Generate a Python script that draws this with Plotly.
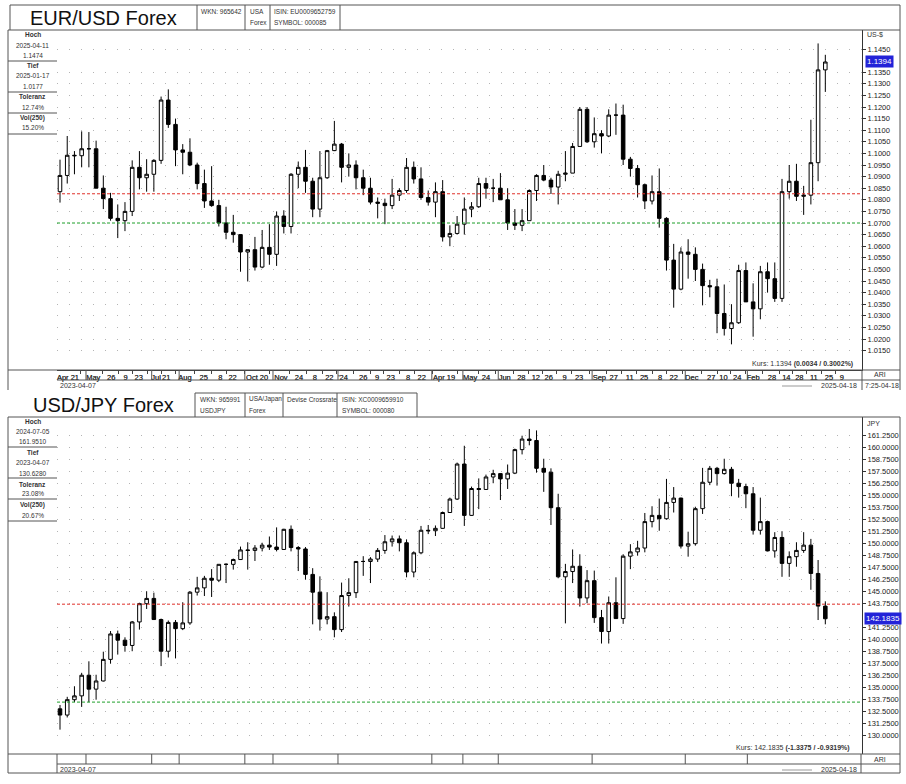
import plotly.graph_objects as go
import pandas as pd

W, H = 906, 784
FONT = "Liberation Sans, Arial, sans-serif"

# ---------------- data ----------------
week_dates = pd.date_range("2023-04-07", "2025-04-18", freq="W-FRI").strftime("%Y-%m-%d").tolist()

eur_open = [1.0835, 1.0905, 1.0992, 1.0990, 1.1020, 1.1020, 1.0850, 1.0805, 1.0720, 1.0710,
            1.0750, 1.0940, 1.0895, 1.0910, 1.0970, 1.1230, 1.1125, 1.1015, 1.1005, 1.0950,
            1.0870, 1.0795, 1.0775, 1.0700, 1.0660, 1.0650, 1.0575, 1.0585, 1.0510, 1.0595,
            1.0565, 1.0730, 1.0685, 1.0910, 1.0940, 1.0880, 1.0760, 1.0895, 1.1012, 1.1040,
            1.0940, 1.0950, 1.0895, 1.0850, 1.0790, 1.0785, 1.0775, 1.0820, 1.0840, 1.0940,
            1.0890, 1.0810, 1.0790, 1.0835, 1.0640, 1.0655, 1.0695, 1.0760, 1.0770, 1.0870,
            1.0850, 1.0850, 1.0800, 1.0700, 1.0690, 1.0710, 1.0840, 1.0905, 1.0885, 1.0855,
            1.0910, 1.0915, 1.1030, 1.1190, 1.1050, 1.1085, 1.1075, 1.1165, 1.1165, 1.0975,
            1.0935, 1.0865, 1.0795, 1.0835, 1.0720, 1.0540, 1.0415, 1.0575, 1.0565, 1.0500,
            1.0430, 1.0425, 1.0310, 1.0245, 1.0270, 1.0495, 1.0360, 1.0330, 1.0490, 1.0460,
            1.0375, 1.0835, 1.0880, 1.0815, 1.0820, 1.0960, 1.1360]
eur_high = [1.0973, 1.1075, 1.1010, 1.1095, 1.1092, 1.1055, 1.0905, 1.0830, 1.0780, 1.0790,
            1.0970, 1.1010, 1.0975, 1.0975, 1.1245, 1.1276, 1.1150, 1.1040, 1.1065, 1.0960,
            1.0930, 1.0945, 1.0800, 1.0770, 1.0735, 1.0650, 1.0585, 1.0640, 1.0670, 1.0695,
            1.0750, 1.0755, 1.0915, 1.0965, 1.1015, 1.0895, 1.1010, 1.1015, 1.1140, 1.1045,
            1.1000, 1.0970, 1.0930, 1.0895, 1.0810, 1.0805, 1.0890, 1.0850, 1.0980, 1.0965,
            1.0940, 1.0840, 1.0875, 1.0885, 1.0690, 1.0730, 1.0810, 1.0790, 1.0895, 1.0895,
            1.0890, 1.0915, 1.0850, 1.0760, 1.0760, 1.0845, 1.0910, 1.0950, 1.0895, 1.0925,
            1.1010, 1.1045, 1.1200, 1.1200, 1.1155, 1.1100, 1.1190, 1.1215, 1.1210, 1.0985,
            1.0950, 1.0870, 1.0905, 1.0935, 1.0725, 1.0610, 1.0595, 1.0630, 1.0595, 1.0525,
            1.0455, 1.0460, 1.0435, 1.0350, 1.0520, 1.0530, 1.0440, 1.0515, 1.0530, 1.0530,
            1.0890, 1.0950, 1.0955, 1.0860, 1.1145, 1.1474, 1.1425]
eur_low = [1.0788, 1.0870, 1.0910, 1.0940, 1.0940, 1.0850, 1.0760, 1.0710, 1.0635, 1.0665,
           1.0730, 1.0845, 1.0835, 1.0835, 1.0955, 1.1110, 1.0945, 1.0910, 1.0945, 1.0845,
           1.0765, 1.0770, 1.0685, 1.0630, 1.0615, 1.0490, 1.0448, 1.0495, 1.0505, 1.0520,
           1.0515, 1.0655, 1.0655, 1.0850, 1.0830, 1.0725, 1.0725, 1.0890, 1.1010, 1.0875,
           1.0900, 1.0845, 1.0820, 1.0780, 1.0720, 1.0695, 1.0760, 1.0795, 1.0830, 1.0870,
           1.0800, 1.0775, 1.0725, 1.0620, 1.0600, 1.0650, 1.0650, 1.0725, 1.0765, 1.0805,
           1.0790, 1.0800, 1.0670, 1.0670, 1.0665, 1.0710, 1.0795, 1.0880, 1.0825, 1.0780,
           1.0880, 1.0915, 1.1030, 1.1045, 1.1025, 1.1000, 1.1070, 1.1080, 1.0950, 1.0900,
           1.0810, 1.0760, 1.0780, 1.0680, 1.0495, 1.0335, 1.0410, 1.0460, 1.0450, 1.0345,
           1.0380, 1.0225, 1.0215, 1.0177, 1.0265, 1.0360, 1.0210, 1.0285, 1.0400, 1.0360,
           1.0360, 1.0805, 1.0795, 1.0735, 1.0780, 1.0880, 1.1265]
eur_close = [1.0905, 1.0992, 1.0990, 1.1020, 1.1020, 1.0850, 1.0805, 1.0720, 1.0710, 1.0750,
             1.0940, 1.0895, 1.0910, 1.0970, 1.1230, 1.1125, 1.1015, 1.1005, 1.0950, 1.0870,
             1.0795, 1.0775, 1.0700, 1.0660, 1.0650, 1.0575, 1.0585, 1.0510, 1.0595, 1.0565,
             1.0730, 1.0685, 1.0910, 1.0940, 1.0880, 1.0760, 1.0895, 1.1012, 1.1040, 1.0940,
             1.0950, 1.0895, 1.0850, 1.0790, 1.0785, 1.0775, 1.0820, 1.0840, 1.0940, 1.0890,
             1.0810, 1.0790, 1.0835, 1.0640, 1.0655, 1.0695, 1.0760, 1.0770, 1.0870, 1.0850,
             1.0850, 1.0800, 1.0700, 1.0690, 1.0710, 1.0840, 1.0905, 1.0885, 1.0855, 1.0910,
             1.0915, 1.1030, 1.1190, 1.1050, 1.1085, 1.1075, 1.1165, 1.1165, 1.0975, 1.0935,
             1.0865, 1.0795, 1.0835, 1.0720, 1.0540, 1.0415, 1.0575, 1.0565, 1.0500, 1.0430,
             1.0425, 1.0310, 1.0245, 1.0270, 1.0495, 1.0360, 1.0330, 1.0490, 1.0460, 1.0375,
             1.0835, 1.0880, 1.0815, 1.0820, 1.0960, 1.1360, 1.1394]

jpy_open = [132.80, 132.15, 133.75, 134.15, 136.30, 134.85, 135.70, 137.95, 140.60, 139.95,
            139.40, 141.85, 143.75, 144.30, 142.10, 138.80, 141.80, 141.15, 141.75, 144.95,
            145.40, 146.40, 146.20, 147.85, 147.85, 148.35, 149.35, 149.30, 149.55, 149.85,
            149.65, 149.40, 151.50, 149.60, 149.45, 146.80, 144.95, 142.15, 142.40, 141.05,
            144.60, 144.90, 148.15, 148.15, 148.40, 149.30, 150.20, 150.50, 150.10, 147.05,
            149.05, 151.40, 151.35, 151.60, 153.25, 154.65, 158.30, 152.95, 155.75, 155.65,
            156.95, 157.30, 156.75, 157.35, 159.80, 160.90, 160.75, 157.85, 157.45, 153.75,
            146.55, 147.10, 147.65, 144.35, 146.15, 142.30, 140.85, 143.85, 142.20, 148.70,
            149.15, 149.55, 152.30, 152.95, 152.60, 154.30, 154.75, 149.75, 150.00, 153.65,
            156.40, 157.85, 157.30, 157.75, 156.30, 155.95, 155.20, 151.40, 152.30, 149.25,
            150.65, 147.95, 148.65, 149.30, 149.85, 146.90, 143.50]
jpy_high = [133.20, 134.05, 135.15, 136.55, 137.75, 136.35, 138.75, 140.90, 140.95, 140.25,
            141.95, 143.85, 145.05, 144.90, 142.20, 142.00, 142.05, 143.90, 145.05, 146.55,
            146.65, 147.35, 147.85, 147.95, 148.45, 149.70, 150.15, 149.85, 150.10, 150.75,
            151.70, 151.55, 151.90, 149.75, 149.65, 147.45, 146.60, 144.95, 142.85, 145.95,
            146.40, 148.20, 148.70, 148.60, 149.55, 150.90, 150.85, 150.85, 150.45, 149.20,
            151.85, 151.95, 151.90, 153.35, 154.80, 158.45, 160.20, 155.95, 156.80, 157.20,
            157.70, 157.30, 158.25, 159.90, 161.25, 161.95, 161.80, 158.85, 157.85, 155.20,
            147.90, 149.40, 148.90, 147.25, 147.20, 143.10, 144.50, 146.50, 148.90, 149.95,
            150.30, 153.20, 153.90, 154.70, 156.75, 155.90, 154.80, 151.25, 153.85, 157.90,
            158.10, 158.00, 158.85, 158.00, 156.75, 156.25, 155.90, 154.80, 152.40, 151.20,
            151.30, 149.20, 150.15, 151.20, 150.50, 148.30, 144.00]
jpy_low = [130.63, 131.90, 133.50, 133.00, 133.50, 133.75, 135.65, 137.50, 138.45, 138.75,
           138.80, 141.05, 143.20, 142.05, 137.25, 138.15, 138.05, 141.00, 141.55, 144.60,
           144.55, 144.45, 146.00, 145.90, 147.30, 148.30, 147.30, 148.20, 149.20, 149.35,
           149.20, 149.35, 149.20, 147.15, 146.25, 141.60, 140.95, 141.60, 140.25, 140.80,
           143.45, 144.35, 146.65, 145.90, 148.10, 148.95, 149.70, 149.20, 146.50, 146.50,
           148.90, 151.00, 150.80, 151.55, 153.20, 154.55, 151.85, 152.90, 153.60, 155.65,
           156.30, 154.55, 155.70, 157.25, 159.30, 160.25, 157.40, 155.40, 151.95, 146.40,
           141.70, 145.90, 143.45, 143.80, 141.75, 139.60, 139.60, 142.45, 141.65, 147.35,
           148.75, 149.10, 151.70, 151.35, 152.50, 153.25, 149.50, 148.65, 149.80, 153.10,
           156.10, 156.05, 157.20, 154.95, 154.80, 153.70, 150.95, 150.95, 149.20, 148.55,
           146.55, 146.55, 147.60, 149.05, 145.20, 142.05, 141.60]
jpy_close = [132.15, 133.75, 134.15, 136.30, 134.85, 135.70, 137.95, 140.60, 139.95, 139.40,
             141.85, 143.75, 144.30, 142.10, 138.80, 141.80, 141.15, 141.75, 144.95, 145.40,
             146.40, 146.20, 147.85, 147.85, 148.35, 149.35, 149.30, 149.55, 149.85, 149.65,
             149.40, 151.50, 149.60, 149.45, 146.80, 144.95, 142.15, 142.40, 141.05, 144.60,
             144.90, 148.15, 148.15, 148.40, 149.30, 150.20, 150.50, 150.10, 147.05, 149.05,
             151.40, 151.35, 151.60, 153.25, 154.65, 158.30, 152.95, 155.75, 155.65, 156.95,
             157.30, 156.75, 157.35, 159.80, 160.90, 160.75, 157.85, 157.45, 153.75, 146.55,
             147.10, 147.65, 144.35, 146.15, 142.30, 140.85, 143.85, 142.20, 148.70, 149.15,
             149.55, 152.30, 152.95, 152.60, 154.30, 154.75, 149.75, 150.00, 153.65, 156.40,
             157.85, 157.30, 157.75, 156.30, 155.95, 155.20, 151.40, 152.30, 149.25, 150.65,
             147.95, 148.65, 149.30, 149.85, 146.90, 143.50, 142.1835]

# reference lines
eur_red_level = 1.0826
eur_green_level = 1.0700
jpy_red_level = 143.70
jpy_green_level = 133.50

# x-axis labels (position in weeks from 2023-04-07)
tick_pos = [1.1, 4.6, 7.1, 9.1, 10.9, 13.3, 14.7, 17.3, 19.9, 22.2, 23.9, 27.3, 30.6, 33.1,
            35.3, 37.3, 39.2, 42.0, 43.9, 45.8, 48.2, 50.1, 53.2, 56.8, 59.0, 61.6, 63.9,
            65.9, 67.7, 69.9, 71.9, 74.7, 76.7, 78.9, 80.9, 83.1, 85.0, 87.5, 90.2, 91.9,
            93.8, 96.0, 98.6, 100.6, 102.4, 104.4, 106.5, 108.3]
tick_text = ["Apr 21", "May", "26", "9", "23", "Jul", "21", "Aug", "25", "8", "22", "Oct 20",
             "Nov", "24", "8", "22", "'24", "26", "9", "23", "8", "22", "Apr 19", "May", "24",
             "Jun", "28", "12", "26", "9", "23", "Sep", "27", "11", "25", "8", "22", "Dec",
             "27", "10", "24", "Feb", "28", "14", "28", "11", "25", "9"]
month_sep = [3.6, 12.7, 16.5, 25.6, 29.5, 38.5, 51.5, 55.8, 60.7, 73.7, 86.6, 95.2]

eur_ticks = [1.0150, 1.0200, 1.0250, 1.0300, 1.0350, 1.0400, 1.0450, 1.0500, 1.0550, 1.0600,
             1.0650, 1.0700, 1.0750, 1.0800, 1.0850, 1.0900, 1.0950, 1.1000, 1.1050, 1.1100,
             1.1150, 1.1200, 1.1250, 1.1300, 1.1350, 1.1450]
jpy_ticks = [130.00, 131.25, 132.50, 133.75, 135.00, 136.25, 137.50, 138.75, 140.00, 141.25,
             143.75, 145.00, 146.25, 147.50, 148.75, 150.00, 151.25, 152.50, 153.75, 155.00,
             156.25, 157.50, 158.75, 160.00, 161.25]

x_idx = list(range(len(week_dates)))

# ---------------- helpers ----------------
def X(px):
    return px / W

def Y(py):
    return 1 - py / H

fig = go.Figure()

candle_style = dict(
    increasing=dict(line=dict(color="black", width=1), fillcolor="white"),
    decreasing=dict(line=dict(color="black", width=1), fillcolor="black"),
    whiskerwidth=0, showlegend=False, hoverinfo="text",
)

fig.add_trace(go.Candlestick(x=x_idx, open=eur_open, high=eur_high, low=eur_low, close=eur_close,
                             text=week_dates, xaxis="x", yaxis="y", **candle_style))
fig.add_trace(go.Candlestick(x=x_idx, open=jpy_open, high=jpy_high, low=jpy_low, close=jpy_close,
                             text=week_dates, xaxis="x2", yaxis="y2", **candle_style))

px_per_week = 7.22
top_l, top_r, top_t, top_b = 57, 862, 30, 370
bot_l, bot_r, bot_t, bot_b = 57, 861, 417, 754
x0 = -3 / px_per_week

def xaxis_cfg(left, right):
    return dict(
        domain=[X(left), X(right)],
        range=[x0, x0 + (right - left) / px_per_week],
        rangeslider=dict(visible=False),
        tickmode="array", tickvals=tick_pos, ticktext=tick_text, tickangle=0,
        tickfont=dict(size=7.5, color="#333", family=FONT),
        ticks="", showgrid=False, zeroline=False,
        showline=True, linecolor="#333", linewidth=1,
        minor=dict(tickmode="array",
                   tickvals=[(a + b) / 2 for a, b in zip(tick_pos[:-1], tick_pos[1:])],
                   ticks="outside", ticklen=3, tickcolor="#444", tickwidth=1),
        fixedrange=True,
    )

def yaxis_cfg(top, bottom, p_ref, y_ref, px_per_unit, ticks, fmt):
    hi = p_ref + (y_ref - top) / px_per_unit
    lo = p_ref - (bottom - y_ref) / px_per_unit
    return dict(
        domain=[Y(bottom), Y(top)],
        range=[lo, hi], side="right",
        tickmode="array", tickvals=ticks, tickformat=fmt,
        tickfont=dict(size=7.5, color="#222", family=FONT),
        ticks="outside", ticklen=3, tickcolor="#333",
        showline=True, linecolor="#333", linewidth=1,
        showgrid=True, gridcolor="#b4b4b4", gridwidth=1, griddash="1px,11px",
        zeroline=False, fixedrange=True,
    )

fig.update_layout(
    width=W, height=H, margin=dict(l=0, r=0, t=0, b=0),
    paper_bgcolor="white", plot_bgcolor="white",
    font=dict(family=FONT, color="#222"),
    xaxis=xaxis_cfg(top_l, top_r),
    yaxis=yaxis_cfg(top_t, top_b, 1.1450, 49, 2320, eur_ticks, ".4f"),
    xaxis2=xaxis_cfg(bot_l, bot_r),
    yaxis2=yaxis_cfg(bot_t, bot_b, 161.25, 435.7, 9.6, jpy_ticks, ".4f"),
    hovermode="closest",
)

shapes = []
annos = []

def line(x1, y1, x2, y2, color="#555", width=1):
    shapes.append(dict(type="line", xref="paper", yref="paper",
                       x0=X(x1), y0=Y(y1), x1=X(x2), y1=Y(y2),
                       line=dict(color=color, width=width)))

def text(x, y, s, size=7, anchor="left", bold=False, color="#333"):
    if bold:
        s = "<b>" + s + "</b>"
    annos.append(dict(xref="paper", yref="paper", x=X(x), y=Y(y), text=s, showarrow=False,
                      xanchor=anchor, yanchor="middle",
                      font=dict(size=size, color=color, family=FONT)))

# horizontal support / resistance lines
for yref_name, lvl, col in [("y", eur_red_level, "#e0302a"), ("y", eur_green_level, "#1fa02a"),
                            ("y2", jpy_red_level, "#e0302a"), ("y2", jpy_green_level, "#1fa02a")]:
    xr = "x domain" if yref_name == "y" else "x2 domain"
    shapes.append(dict(type="line", xref=xr, yref=yref_name, x0=0, x1=1, y0=lvl, y1=lvl,
                       line=dict(color=col, width=1, dash="3px,2px"), layer="above"))

# month separators in the date rows
for s in month_sep:
    shapes.append(dict(type="line", xref="x", yref="paper", x0=s, x1=s, y0=Y(370), y1=Y(380),
                       line=dict(color="#555", width=1)))
    shapes.append(dict(type="line", xref="x2", yref="paper", x0=s, x1=s, y0=Y(754), y1=Y(764),
                       line=dict(color="#555", width=1)))

# ---------- top panel frame ----------
line(10, 5, 900, 5)
for xv in (10, 197, 245, 270, 340):
    line(xv, 5, xv, 30)
line(8, 30, 900, 30)
line(8, 30, 8, 390)
line(900, 5, 900, 390)
line(862, 370, 862, 390)
line(8, 370, 900, 370)
line(57, 380, 900, 380)
for yv in (61, 92, 113, 134):
    line(8, yv, 57, yv)

text(103, 18, "EUR/USD Forex", size=20, anchor="center", color="#111")
text(199, 12, "WKN: 965642", 6.5)
text(248, 12, "USA", 6.5)
text(248, 23, "Forex", 6.5)
text(272, 12, "ISIN: EU0009652759", 6.5)
text(272, 23, "SYMBOL: 000085", 6.5)

info_top = [(35, "Hoch", True), (45, "2025-04-11", False), (56, "1.1474", False),
            (66, "Tief", True), (76, "2025-01-17", False), (87, "1.0177", False),
            (97, "Toleranz", True), (107, "12.74%", False),
            (118, "Vol(250)", True), (128, "15.20%", False)]
for yv, s, b in info_top:
    text(32.5, yv, s, 6.5, anchor="center", bold=b)

text(865, 35, "US-$", 7)
text(880, 374, "ARI", 7, anchor="center")
text(58, 385, "2023-04-07", 7)
text(859, 385, "2025-04-18", 7, anchor="right")
line(782, 386, 812, 386, color="#999")
text(863, 385, "7:25-04-18", 7)
text(855, 364, "Kurs: 1.1394 <b>(0.0034 / 0.3002%)</b>", 7, anchor="right")
annos.append(dict(xref="paper", yref="y", x=X(865), y=eur_close[-1], text="1.1394",
                  showarrow=False, xanchor="left", yanchor="middle", bgcolor="#2323d8",
                  borderpad=1, font=dict(size=8, color="white", family=FONT)))

# ---------- bottom panel frame ----------
line(195, 393, 417, 393)
for xv in (195, 245, 283, 337, 417):
    line(xv, 393, xv, 417)
line(8, 417, 900, 417)
line(8, 417, 8, 773)
line(900, 417, 900, 773)
line(861, 754, 861, 773)
line(8, 754, 900, 754)
line(57, 764, 900, 764)
line(8, 773, 900, 773)
line(57, 754, 57, 773)
for yv in (447, 478, 499, 521):
    line(8, yv, 57, yv)

text(103, 405, "USD/JPY Forex", size=20, anchor="center", color="#111")
text(198, 399, "WKN: 965991", 6.5)
text(198, 410, "USDJPY", 6.5)
text(247, 399, "USA/Japan", 6.5)
text(247, 410, "Forex", 6.5)
text(285, 399, "Devise Crossrate", 6.5)
text(340, 399, "ISIN: XC0009659910", 6.5)
text(340, 410, "SYMBOL: 000080", 6.5)

info_bot = [(421, "Hoch", True), (431, "2024-07-05", False), (441, "161.9510", False),
            (452, "Tief", True), (462, "2023-04-07", False), (473, "130.6280", False),
            (484, "Toleranz", True), (494, "23.08%", False),
            (505, "Vol(250)", True), (515, "20.67%", False)]
for yv, s, b in info_bot:
    text(32.5, yv, s, 6.5, anchor="center", bold=b)

text(865, 423, "JPY", 7)
text(880, 759, "ARI", 7, anchor="center")
text(58, 769, "2023-04-07", 7)
text(859, 769, "2025-04-18", 7, anchor="right")
line(782, 770, 812, 770, color="#999")
text(852, 748, "Kurs: 142.1835 <b>(-1.3375 / -0.9319%)</b>", 7, anchor="right")
annos.append(dict(xref="paper", yref="y2", x=X(864), y=jpy_close[-1], text="142.1835",
                  showarrow=False, xanchor="left", yanchor="middle", bgcolor="#2323d8",
                  borderpad=1, font=dict(size=8, color="white", family=FONT)))

fig.update_layout(shapes=shapes, annotations=annos)
fig.write_html("out.html", config={"displayModeBar": False},
               post_script="document.body.style.margin='0px';document.body.style.overflow='hidden';")
